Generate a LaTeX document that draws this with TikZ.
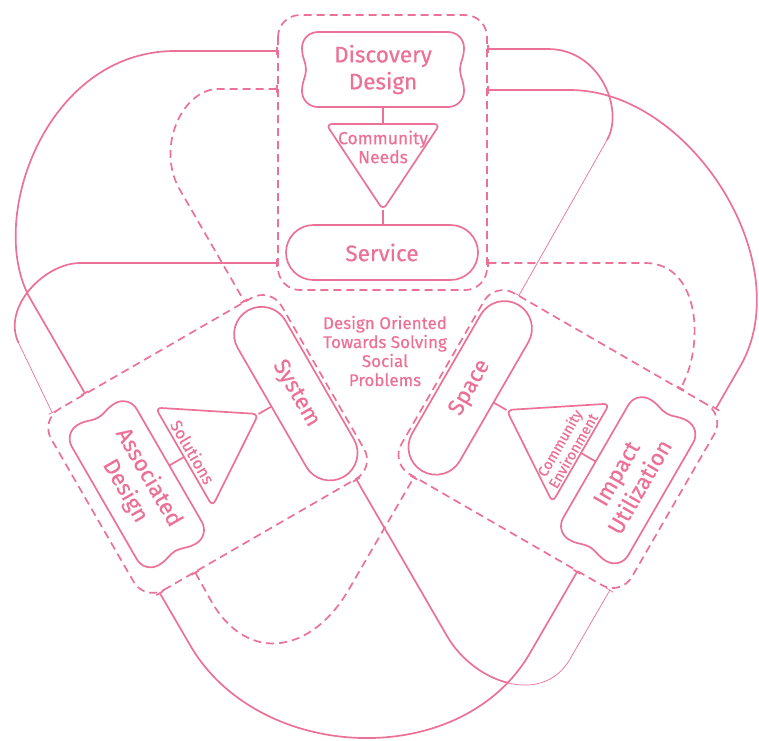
\documentclass[tikz,border=0pt]{standalone}
\usepackage{fontspec}
\setmainfont{Fira Sans}[FakeBold=0.6]
\usetikzlibrary{arrows.meta}
\definecolor{pk}{RGB}{236,113,151}
\tikzset{
  ln/.style={draw=pk, line width=1.7pt},
  fineln/.style={draw=pk, line width=0.7pt},
  dsh/.style={dash pattern=on 8pt off 5pt},
  dbox/.style={ln, dsh, rounded corners=22pt},
  barS/.style={arrows={Bar[width=8pt]-}},
  barE/.style={arrows={-Bar[width=8pt]}},
  barB/.style={arrows={Bar[width=8pt]-Bar[width=8pt]}},
  lbl/.style={text=pk, align=center, inner sep=0pt, font=\fontsize{22.5}{27}\selectfont},
  trilbl/.style={text=pk, align=center, inner sep=0pt},
  frameT/.style={},
  frameL/.style={shift={(-7.6,1.5)}, rotate around={120:(383,345)}},
  frameR/.style={shift={(6.6,-2.5)}, rotate around={240:(383,345)}},
}
% #1 frame, #2 prefix, #3 text rotation, #4 wavy text, #5 triangle text, #6 triangle text options, #7 pill text, #8 box top, #9 box bottom
\newcommand\drawcluster[9]{%
\begin{scope}[#1]
  \draw[dbox] (278,#8) rectangle (487,#9);
  \draw[ln] (318,32) -- (448,32) .. controls (457,32) and (464,39) .. (464,48)
     .. controls (464,58) and (460,62) .. (460,69.5) .. controls (460,77) and (464,81) .. (464,91)
     .. controls (464,100) and (457,107) .. (448,107) -- (318,107)
     .. controls (309,107) and (302,100) .. (302,91)
     .. controls (302,81) and (306,77) .. (306,69.5) .. controls (306,62) and (302,58) .. (302,48)
     .. controls (302,39) and (309,32) .. cycle;
  \draw[ln, rounded corners=6pt] (326,124) -- (440,124) -- (383,210) -- cycle;
  \draw[ln, rounded corners=27.5pt] (286,225) rectangle (478,280);
  \coordinate (#2w) at (383,107);
  \coordinate (#2ta) at (383,124);
  \coordinate (#2tb) at (383,210);
  \coordinate (#2p) at (383,225);
  \draw[ln] (#2w) -- (#2ta);
  \draw[ln] (#2tb) -- (#2p);
  \node[lbl, rotate=#3] (#2W) at (383,69.5) {#4};
  \node[trilbl, rotate=#3, #6] (#2T) {#5};
  \node[lbl, rotate=#3] (#2P) at (382,252.5) {#7};
\end{scope}}

\begin{document}
\begin{tikzpicture}[x=1pt, y=-1pt]
\useasboundingbox (0,0) rectangle (759,740);

\drawcluster{frameT}{T}{0}{Discovery\\Design}{Community\\Needs}{at={(383,147)}, font=\fontsize{17.5}{19}\selectfont}{Service}{15}{290}
\drawcluster{frameL}{L}{-60}{Associated\\Design}{Solutions}{at={(383,134)}, font=\fontsize{16.5}{18}\selectfont}{System}{18}{284}
\drawcluster{frameR}{R}{60}{Impact\\Utilization}{Community\\Environment}{at={(385,140)}, font=\fontsize{14.5}{15.5}\selectfont}{Space}{18}{284}

\node[trilbl, font=\fontsize{17}{19}\selectfont] (ctr) at (385,351) {Design Oriented\\Towards Solving\\Social\\Problems};

% attachment points
\coordinate (Tl1) at (278,51);
\coordinate (Tl2) at (278,89);
\coordinate (Tl3) at (278,263);
\coordinate (Tr1) at (487,49);
\coordinate (Tr2) at (487,90);
\coordinate (Tr3) at (487,263);
\coordinate (Lu1) at (85.3,393.9);
\coordinate (Lu2) at (244.6,301.9);
\coordinate (Lu3) at (52.3,412.9);
\coordinate (Ld1) at (159.4,592.4);
\coordinate (Ld2) at (194.9,571.9);
\coordinate (Ld3) at (356,478.9);
\coordinate (Ru1) at (518.7,295.8);
\coordinate (Ru2) at (715.4,409.4);
\coordinate (Ru3) at (680.2,389.1);
\coordinate (Rd1) at (577.5,571.1);
\coordinate (Rd2) at (414.2,476.8);
\coordinate (Rd3) at (610,589.9);
% knees of the tapering connectors
\coordinate (ka) at (18.6,343);
\coordinate (kb) at (607,140);
\coordinate (kd) at (508.5,683);

% Top -- Left
\draw[ln, barB] (Tl1) -- (175,51) .. controls (45,51) and (-15,222) .. (31,300) -- (Lu1);
\draw[ln, dsh, barB] (Tl2) -- (218,89) .. controls (183,89) and (155,147) .. (180,190) -- (Lu2);
\draw[ln, barS] (Tl3) -- (80,263) .. controls (45,263) and (1.4,307) .. (ka);
\draw[fineln, barE] (ka) -- (Lu3);

% Top -- Right
\draw[ln, barS] (Tr1) -- (548,49) .. controls (600,49) and (624.5,109.7) .. (kb);
\draw[fineln, barE] (kb) -- (Ru1);
\draw[ln, barB] (Tr2) -- (570,90) .. controls (690,90) and (800,262.8) .. (740,366.7) -- (Ru2);
\draw[ln, dsh, barB] (Tr3) -- (645,263) .. controls (700,263) and (705,345) .. (Ru3);

% Left -- Right
\draw[ln, barB] (Ld1) -- (190,645) .. controls (258.5,763.6) and (461.5,771.6) .. (530,653) -- (Rd1);
\draw[ln, dsh, barB] (Ld2) -- (211.5,601.6) .. controls (247.9,664.6) and (311.7,653) .. (348.5,590) -- (Rd2);
\draw[ln, barS] (Ld3) -- (447,636) .. controls (460.7,659.7) and (484.6,677.3) .. (kd);
\draw[fineln, barE] (kd) .. controls (532.45,688.8) and (556.35,682.7) .. (570,659) -- (Rd3);
\end{tikzpicture}
\end{document}
